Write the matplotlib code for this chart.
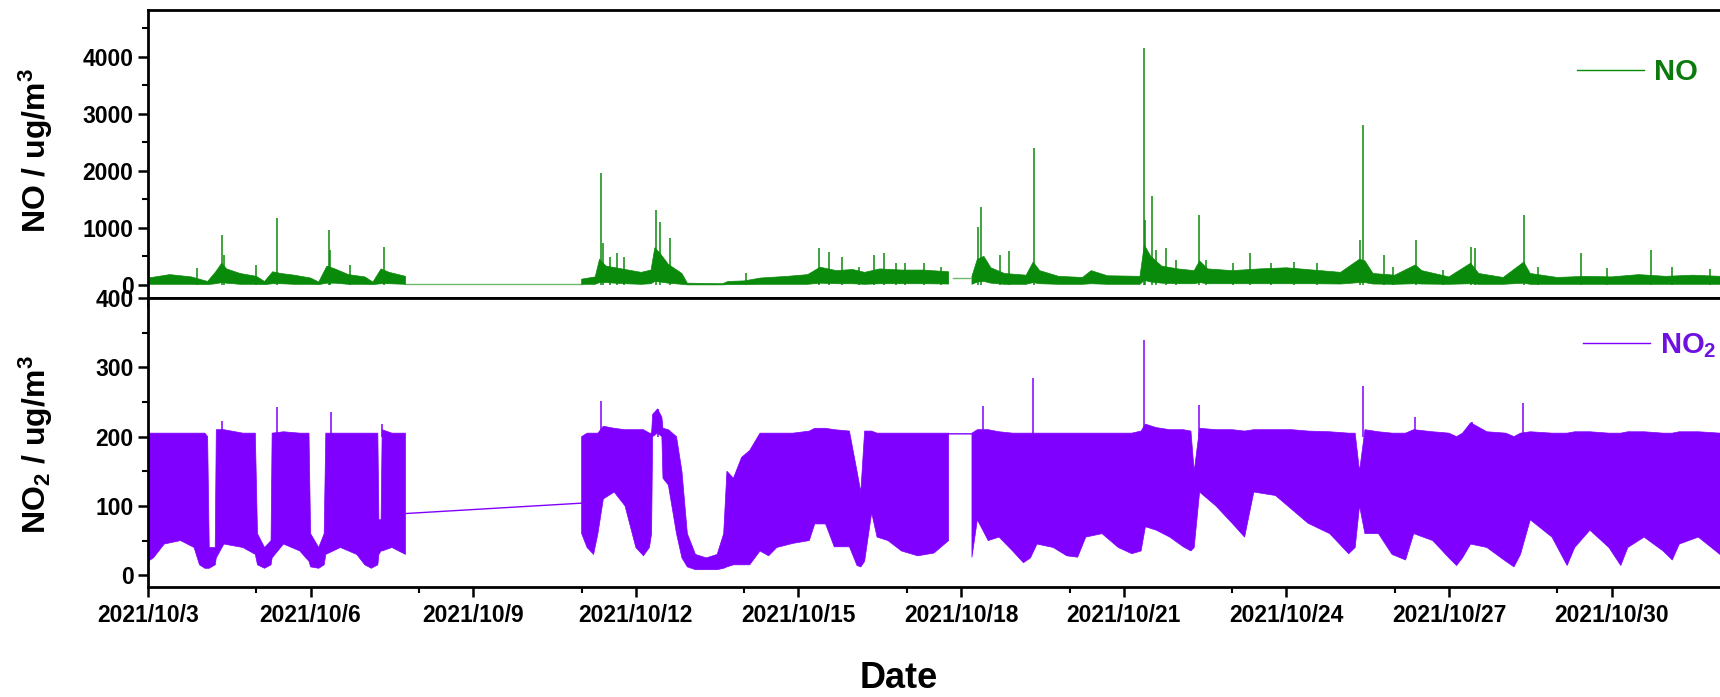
import numpy as np
import matplotlib
matplotlib.use('Agg')
import matplotlib.pyplot as plt
import matplotlib.dates as mdates
from matplotlib.ticker import MultipleLocator, FuncFormatter

plt.rcParams['font.family'] = ['Liberation Sans', 'DejaVu Sans']
plt.rcParams['font.weight'] = 'bold'
plt.rcParams['mathtext.fontset'] = 'custom'
plt.rcParams['mathtext.rm'] = 'Liberation Sans:bold'
plt.rcParams['mathtext.it'] = 'Liberation Sans:bold:italic'
plt.rcParams['mathtext.bf'] = 'Liberation Sans:bold'

# time in days after 2021/10/3 00:00
# NO2 envelope (low, high) of the dense series, nan = no data
no2_t = [0.00, 0.10, 0.30, 0.60, 0.85, 0.95, 1.05, 1.10, 1.13, 1.24, 1.26, 1.40, 1.75, 1.98, 2.02, 2.15,
         2.27, 2.29, 2.50, 2.80, 2.97, 3.00, 3.15, 3.25, 3.28, 3.55, 3.85, 4.00, 4.12, 4.24, 4.26,
         4.30, 4.32, 4.50, 4.75,
         4.76,
         8.00, 8.10, 8.22, 8.30, 8.40, 8.60, 8.80, 9.00, 9.14, 9.25, 9.29, 9.31, 9.40, 9.48, 9.50,
         9.60, 9.75, 9.85, 9.95, 10.10, 10.30, 10.50, 10.62, 10.68, 10.80, 10.95, 11.10, 11.29,
         11.45, 11.60, 11.90, 12.20, 12.30, 12.50, 12.66, 12.94, 13.08, 13.15, 13.22, 13.35, 13.45,
         13.65, 13.90, 14.20, 14.50, 14.77,
         14.78,
         15.20, 15.30, 15.50, 15.70, 15.95, 16.15, 16.28, 16.40, 16.70, 16.95, 17.15, 17.30, 17.60,
         17.90, 18.15, 18.32, 18.40, 18.60, 18.85, 19.10, 19.24, 19.30, 19.40, 19.70, 20.00, 20.23,
         20.40, 20.80, 21.10, 21.40, 21.80, 22.15, 22.27, 22.35, 22.45, 22.70, 22.95, 23.20, 23.35,
         23.70, 24.00, 24.14, 24.25, 24.40, 24.70, 25.05, 25.20, 25.32, 25.50, 25.90, 26.18, 26.32,
         26.60, 26.95, 27.17, 27.30, 27.60, 27.95, 28.12, 28.25, 28.60, 29.00]
no2_lo = [20, 25, 45, 50, 40, 15, 10, 10, 10, 15, 25, 45, 40, 30, 15, 10,
          15, 25, 45, 35, 20, 12, 10, 15, 30, 40, 30, 15, 10, 15, 30,
          35, 35, 40, 30,
          np.nan,
          60, 40, 30, 60, 110, 120, 100, 40, 28, 40, 60, 200, 205, 200, 140,
          130, 60, 25, 12, 8, 8, 8, 10, 12, 15, 15, 15, 35,
          28, 40, 46, 50, 74, 74, 41, 41, 14, 12, 20, 90, 55,
          50, 35, 28, 32, 50,
          np.nan,
          26, 80, 50, 55, 35, 18, 25, 45, 40, 28, 26, 55, 60,
          40, 31, 35, 70, 65, 55, 41, 35, 40, 120, 100, 75, 55,
          120, 115, 95, 75, 60, 31, 40, 100, 60, 60, 30, 22, 60,
          50, 25, 14, 25, 45, 40, 20, 12, 30, 80, 55, 14, 40,
          65, 40, 14, 40, 55, 35, 22, 45, 55, 30]
no2_hi = [205, 205, 205, 205, 205, 205, 205, 200, 40, 40, 210, 210, 205, 205, 60, 40,
          50, 205, 207, 205, 205, 60, 40, 60, 205, 205, 205, 205, 205, 205, 80,
          80, 210, 205, 205,
          np.nan,
          200, 205, 205, 205, 215, 212, 210, 210, 210, 205, 205, 232, 240, 228, 212,
          210, 200, 150, 60, 30, 25, 30, 60, 150, 140, 170, 180, 205,
          205, 205, 205, 208, 212, 212, 210, 208, 150, 120, 208, 208, 205,
          205, 205, 205, 205, 205,
          np.nan,
          205, 210, 210, 207, 205, 205, 205, 205, 205, 205, 205, 205, 205,
          205, 205, 208, 218, 213, 210, 210, 208, 150, 212, 210, 210, 208,
          210, 210, 210, 208, 207, 205, 205, 150, 210, 207, 205, 205, 210,
          207, 205, 200, 205, 220, 207, 205, 200, 205, 207, 205, 205, 207,
          207, 205, 205, 207, 207, 205, 205, 207, 207, 205]
no2_spike_t = [1.36, 2.38, 3.37, 4.32, 8.36, 9.40, 15.41, 16.33, 18.37, 19.38, 22.42, 23.38, 24.42, 25.37]
no2_spike_v = [222, 243, 235, 218, 252, 240, 244, 285, 340, 245, 273, 228, 221, 249]
no2_gap_t = [4.75, 8.00, np.nan, 14.77, 15.20]
no2_gap_v = [89, 104, np.nan, 204, 204]

# NO envelope
no_t = [0.00, 0.40, 0.80, 1.10, 1.25, 1.36, 1.45, 1.70, 2.00, 2.15, 2.30, 2.45, 2.70, 3.00, 3.15, 3.30,
        3.45, 3.70, 4.00, 4.15, 4.30, 4.45, 4.75,
        4.76,
        8.00, 8.25, 8.33, 8.45, 8.80, 9.10, 9.28, 9.35, 9.45, 9.60, 9.85, 9.95, 10.60, 10.70, 11.00,
        11.30, 11.80, 12.17, 12.40, 12.70, 13.00, 13.22, 13.50, 13.90, 14.30, 14.77,
        14.78,
        15.20, 15.30, 15.42, 15.55, 15.80, 16.20, 16.33, 16.45, 16.80, 17.24, 17.40, 17.70, 18.30,
        18.38, 18.50, 18.70, 19.00, 19.30, 19.40, 19.55, 20.00, 20.50, 21.00, 21.50, 22.00, 22.35,
        22.45, 22.60, 23.00, 23.38, 23.50, 24.00, 24.40, 24.55, 25.00, 25.38, 25.50, 26.00, 26.50,
        27.00, 27.50, 28.00, 28.50, 29.00]
no_lo = [10, 10, 10, 5, 20, 40, 30, 10, 10, 5, 20, 20, 10, 10, 5, 30,
         30, 10, 10, 5, 20, 20, 10,
         np.nan,
         10, 10, 40, 40, 20, 10, 20, 60, 50, 30, 10, 0, 0, 5, 5,
         10, 10, 10, 30, 20, 20, 10, 20, 20, 20, 15,
         np.nan,
         10, 50, 60, 30, 10, 10, 40, 20, 10, 10, 20, 10, 10,
         80, 50, 30, 20, 20, 40, 20, 20, 20, 20, 20, 15, 40,
         40, 15, 10, 20, 15, 10, 20, 10, 10, 30, 10, 10, 10,
         10, 10, 10, 10, 10]
no_hi = [120, 180, 140, 60, 230, 380, 280, 200, 150, 60, 230, 200, 170, 120, 50, 330,
         280, 180, 140, 50, 280, 220, 150,
         np.nan,
         100, 140, 450, 330, 270, 220, 260, 650, 550, 360, 200, 30, 20, 60, 70,
         120, 150, 180, 310, 250, 270, 220, 280, 260, 260, 230,
         np.nan,
         150, 450, 500, 300, 200, 170, 400, 250, 150, 130, 250, 160, 150,
         700, 500, 330, 280, 250, 420, 280, 250, 280, 300, 260, 220, 450,
         420, 200, 170, 350, 250, 140, 380, 200, 130, 400, 200, 130, 150,
         140, 180, 150, 170, 150]
no_spike_t = [0.90, 1.36, 1.40, 1.99, 2.38, 3.33, 3.36, 3.72, 4.35, 8.35, 8.40, 8.53, 8.65, 8.79, 9.38,
              9.45, 9.63, 11.04, 12.37, 12.56, 12.80, 13.12, 13.40, 13.58, 13.79, 13.96, 14.32, 14.63,
              15.31, 15.37, 15.72, 15.89, 16.35, 18.37, 18.40, 18.53, 18.60, 18.78, 18.96, 19.38, 19.52,
              20.01, 20.33, 20.72, 21.14, 21.56, 22.35, 22.42, 22.80, 22.97, 23.40, 23.89, 24.40, 24.48,
              25.39, 25.65, 26.43, 26.92, 27.73, 28.12, 28.82]
no_spike_v = [300, 870, 530, 350, 1170, 965, 614, 350, 672, 1960, 730, 497, 556, 497, 1316,
              1111, 818, 200, 643, 585, 497, 320, 527, 556, 380, 380, 380, 320,
              1023, 1374, 527, 600, 2398, 4150, 1140, 1550, 614, 643, 440, 1228, 438,
              380, 556, 380, 409, 380, 790, 2807, 527, 320, 790, 260, 672, 650,
              1228, 320, 556, 300, 614, 320, 280]
no_gap_t = [4.75, 8.00, np.nan, 14.85, 15.16]
no_gap_v = [8, 8, np.nan, 125, 125]

green = '#0a8a0a'
violet = '#8000ff'

t0 = mdates.date2num(np.datetime64('2021-10-03T00:00'))
def tx(d):
    return t0 + np.asarray(d, dtype=float)

fig = plt.figure(figsize=(17.2, 6.97), dpi=100)
ax1 = fig.add_axes([148/1720, 1-298/697, 1-148/1720, 288/697])
ax2 = fig.add_axes([148/1720, 1-587/697, 1-148/1720, 289/697])

ax1.fill_between(tx(no_t), no_lo, no_hi, color=green, lw=0.5)
ax1.vlines(tx(no_spike_t), 0, no_spike_v, color=green, lw=1.1)
ax1.plot(tx(no_gap_t), no_gap_v, color=green, lw=1.0, alpha=0.6)
ax1.plot([], [], color=green, lw=1.0, label='NO')

ax2.fill_between(tx(no2_t), no2_lo, no2_hi, color=violet, lw=0.5)
ax2.vlines(tx(no2_spike_t), 200, no2_spike_v, color=violet, lw=1.1)
ax2.plot(tx(no2_gap_t), no2_gap_v, color=violet, lw=1.0)
ax2.plot([], [], color=violet, lw=1.0, label=r'NO$_2$')

ax1.set_xlim(tx(0), tx(29))
ax2.set_xlim(tx(0), tx(29))
ax1.set_ylim(-230, 4820)
ax2.set_ylim(-17, 400)

for ax in (ax1, ax2):
    for s in ax.spines.values():
        s.set_linewidth(2.0)
    ax.spines['right'].set_visible(False)
    ax.xaxis.set_major_locator(mdates.DayLocator(bymonthday=range(3, 31, 3)))
    ax.xaxis.set_minor_locator(mdates.DayLocator(bymonthday=range(5, 32, 3)))
    ax.tick_params(which='major', length=7, width=1.8, labelsize=16.5)
    ax.tick_params(which='minor', length=4, width=1.5)
    ax.tick_params(axis='x', top=False, right=False)
    ax.tick_params(axis='y', right=False)

ax1.yaxis.set_major_locator(MultipleLocator(1000))
ax1.yaxis.set_minor_locator(MultipleLocator(500))
ax2.yaxis.set_major_locator(MultipleLocator(100))
ax2.yaxis.set_minor_locator(MultipleLocator(50))
ax1.tick_params(axis='x', which='both', labelbottom=False)

def datefmt(v, p):
    dt = mdates.num2date(v)
    return f'{dt.year}/{dt.month}/{dt.day}'
ax2.xaxis.set_major_formatter(FuncFormatter(datefmt))
ax2.tick_params(axis='x', pad=5)

fig.text(36/1720, 1-150/697, r'NO / ug/m$^3$', rotation=90, ha='center', va='center', fontsize=23)
fig.text(36/1720, 1-445/697, r'NO$_2$ / ug/m$^3$', rotation=90, ha='center', va='center', fontsize=23)
fig.text(899/1720, 1-678/697, 'Date', ha='center', va='center', fontsize=26)

leg1 = ax1.legend(loc='center left', bbox_to_anchor=(1577/1720, 1-72/697), bbox_transform=fig.transFigure,
                  frameon=False, fontsize=21, handlelength=2.3, handletextpad=0.35, borderpad=0, borderaxespad=0)
for txt in leg1.get_texts():
    txt.set_color('#0d7a0d')
leg2 = ax2.legend(loc='center left', bbox_to_anchor=(1583/1720, 1-346/697), bbox_transform=fig.transFigure,
                  frameon=False, fontsize=21, handlelength=2.3, handletextpad=0.35, borderpad=0, borderaxespad=0)
for txt in leg2.get_texts():
    txt.set_color('#7010e0')

fig.savefig('out.png', dpi=100)
